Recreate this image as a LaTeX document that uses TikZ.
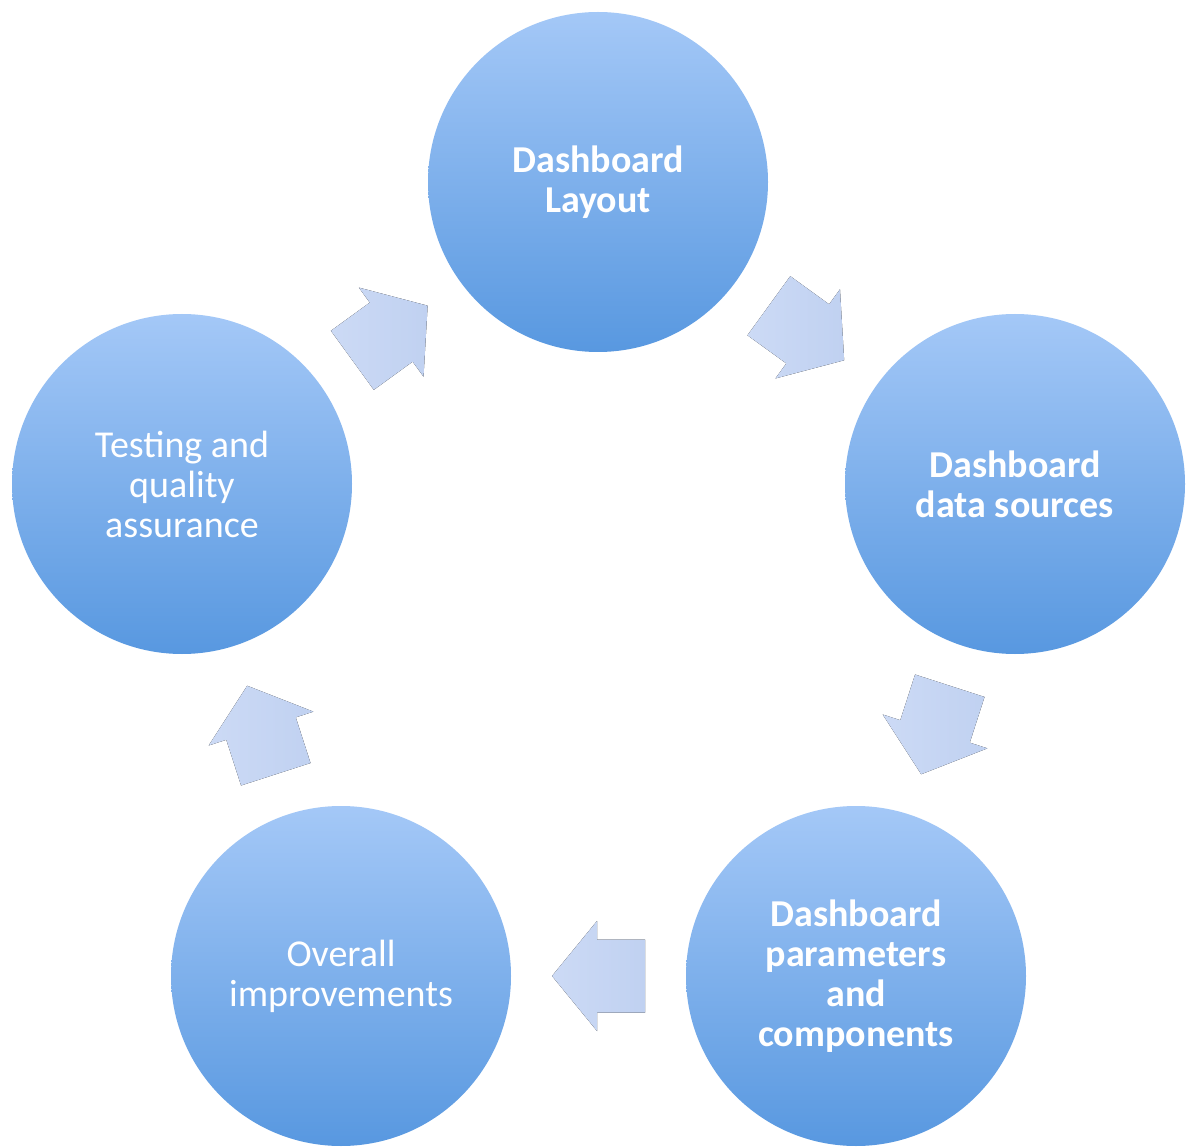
\documentclass[tikz,border=0pt]{standalone}
\usepackage{fontspec}
\setmainfont{Carlito}
\usetikzlibrary{calc}
\usetikzlibrary{positioning}

\definecolor{discTop}{RGB}{164,200,247}
\definecolor{discBot}{RGB}{88,152,224}
\definecolor{arrTail}{RGB}{204,218,245}
\definecolor{arrTip}{RGB}{192,209,241}

\tikzset{
  disc/.style={circle, minimum size=340pt, inner sep=0pt, top color=discTop, bottom color=discBot,
    text=white, align=center, font=\fontsize{38}{40}\selectfont},
  discb/.style={disc, font=\fontsize{38}{40}\selectfont\bfseries},
  blockarrow/.pic={
    \fill[left color=arrTail, right color=arrTip] (-46.5,-36.5) -- (1.5,-36.5) -- (1.5,-55)
      -- (46.5,0) -- (1.5,55) -- (1.5,36.5) -- (-46.5,36.5) -- cycle;
  }
}

\begin{document}
\begin{tikzpicture}[x=1pt, y=1pt]
\fill[white] (0,0) rectangle (1187,-1147);
\useasboundingbox (0,0) rectangle (1187,-1147);

\node[discb] (layout)  at (598,-182)  {Dashboard\\Layout};
\node[discb] (sources) at (1015,-484) {Dashboard\\data sources};
\node[discb] (params)  at (856,-976)  {Dashboard\\parameters\\and\\components};
\node[disc]  (overall) at (341,-976)  {Overall\\improvements};
\node[disc]  (testing) at (182,-484)  {Testing and\\quality\\assurance};

\foreach \from/\to in {layout/sources, sources/params, params/overall, overall/testing, testing/layout}
  \path let \p1=($(\to)-(\from)$), \n1={atan2(\y1,\x1)} in
    pic[rotate=\n1] at ($(\from)!0.5!(\to)$) {blockarrow};
\end{tikzpicture}
\end{document}
